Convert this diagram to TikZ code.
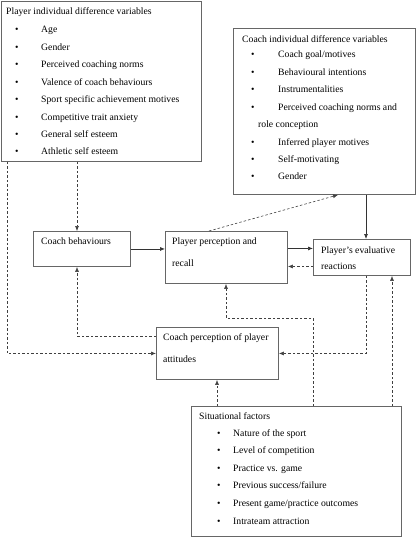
\documentclass[tikz,border=0pt]{standalone}
\usepackage{fontspec}
\setmainfont{Liberation Serif}
\usetikzlibrary{arrows.meta}
\tikzset{
  box/.style={draw=black!60, line width=0.9pt, inner sep=0pt, anchor=north west},
  lbl/.style={anchor=base west, inner sep=0pt, font=\fontsize{9.7}{11}\selectfont},
  dline/.style={draw=black!75, line width=0.6pt, dash pattern=on 2.5pt off 2pt},
  sline/.style={draw=black!80, line width=0.7pt},
  tip/.style={-{Latex[length=5pt,width=4pt]}},
}
\begin{document}
\begin{tikzpicture}[x=1pt, y=-1pt]
  \useasboundingbox (0,0) rectangle (416,543);
  % boxes
  \node[box, minimum width=200pt, minimum height=160pt] (pid) at (0.5,1) {};
  \node[box, minimum width=182pt, minimum height=166pt] (cid) at (233,28) {};
  \node[box, minimum width=97pt, minimum height=35pt] (cb) at (33,231) {};
  \node[box, minimum width=122pt, minimum height=52pt] (ppr) at (165,231) {};
  \node[box, minimum width=97pt, minimum height=36pt] (per) at (313,239) {};
  \node[box, minimum width=122pt, minimum height=52pt] (cpa) at (156,327) {};
  \node[box, minimum width=210pt, minimum height=130pt] (sit) at (191,406) {};
  % player individual difference variables
  \node[lbl] (pidt) at (6,15) {Player individual difference variables};
  \foreach \t [count=\i from 0] in {Age, Gender, Perceived coaching norms,
      Valence of coach behaviours, Sport specific achievement motives,
      Competitive trait anxiety, General self esteem, Athletic self esteem} {
    \node[lbl] (pidb\i) at (15,33+17.4*\i) {•};
    \node[lbl] (pidi\i) at (41,33+17.4*\i) {\t};
  }
  % coach individual difference variables
  \node[lbl] (cidt) at (242,42) {Coach individual difference variables};
  \foreach \n/\t in {0/{Coach goal/motives}, 1/{Behavioural intentions},
      2/{Instrumentalities}, 3/{Perceived coaching norms and},
      5/{Inferred player motives}, 6/{Self-motivating}, 7/{Gender}} {
    \node[lbl] (cidb\n) at (251,58+17.4*\n) {•};
    \node[lbl] (cidi\n) at (278,58+17.4*\n) {\t};
  }
  \node[lbl] (cidi4) at (258,58+17.4*4) {role conception};
  % middle row
  \node[lbl] (cbt) at (41,244) {Coach behaviours};
  \node[lbl] (pprt) at (172,244) {Player perception and};
  \node[lbl] (pprt2) at (172,266) {recall};
  \node[lbl] (pert) at (321,253) {Player’s evaluative};
  \node[lbl] (pert2) at (321,269) {reactions};
  \node[lbl] (cpat) at (163,340) {Coach perception of player};
  \node[lbl] (cpat2) at (163,362) {attitudes};
  % situational factors
  \node[lbl] (sitt) at (199,419) {Situational factors};
  \foreach \t [count=\i from 0] in {Nature of the sport, Level of competition,
      Practice vs. game, {Previous success/failure},
      {Present game/practice outcomes}, Intrateam attraction} {
    \node[lbl] (sitb\i) at (217,436+17.6*\i) {•};
    \node[lbl] (siti\i) at (233,436+17.6*\i) {\t};
  }
  % solid links
  \draw[sline, tip] (cb.east) -- (cb.east -| ppr.west);
  \draw[sline, tip] ([yshift=9pt]ppr.east) -- ([yshift=9pt]ppr.east -| per.west);
  \draw[sline, tip] ([xshift=53pt]per.north west |- cid.south) -- ([xshift=53pt]per.north west);
  % dashed links
  \draw[dline, tip] ([xshift=44pt]cb.north west |- pid.south) -- ([xshift=44pt]cb.north west);
  \draw[dline, tip] ([xshift=6.5pt]pid.south west) |- (cpa.west);
  \draw[dline, tip] ([yshift=17pt]cpa.west) -| ([xshift=44pt]cb.south west);
  \draw[dline, tip] ([yshift=-9pt]per.west) -- ([yshift=-9pt]per.west -| ppr.east);
  \draw[dline, tip] ([xshift=44pt]ppr.north west) -- ([xshift=105pt]cid.south west);
  \draw[dline, tip] ([xshift=53pt]per.south west) |- (cpa.east);
  \draw[dline, tip] ([xshift=122pt]sit.north west) -- ++(0,-88) -| ([xshift=61pt]ppr.south west);
  \draw[dline, tip] ([xshift=26pt]sit.north west) -- ([xshift=26pt]sit.north west |- cpa.south);
  \draw[dline, tip] ([xshift=201pt]sit.north west) -- ([xshift=201pt]sit.north west |- per.south);
\end{tikzpicture}
\end{document}
